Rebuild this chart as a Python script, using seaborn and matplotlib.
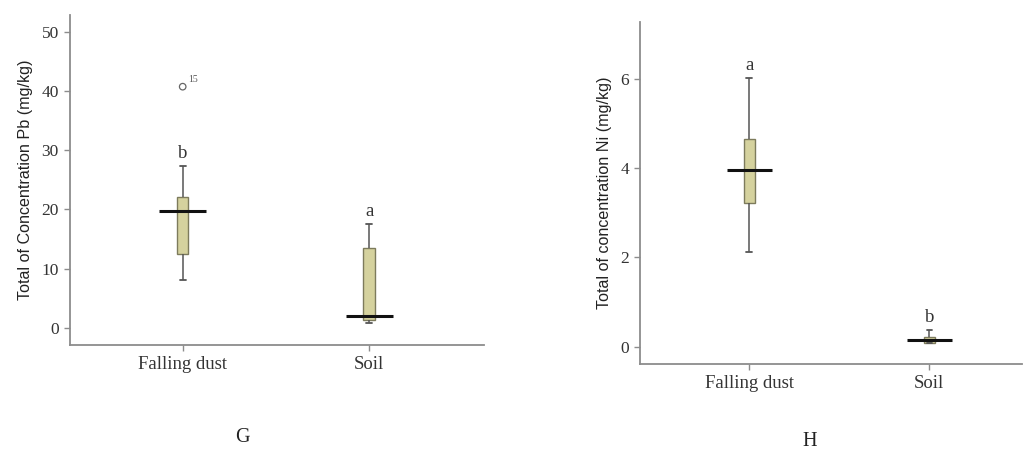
import numpy as np
import pandas as pd
import matplotlib
matplotlib.use("Agg")
import matplotlib.pyplot as plt
import seaborn as sns

# ---------------- data ----------------
categories = ["Falling dust", "Soil"]

# Pb (mg/kg): five-number summaries per category
pb_low = [8.0, 0.8]
pb_q1 = [12.5, 1.4]
pb_median = [19.8, 2.0]
pb_q3 = [22.1, 13.5]
pb_high = [27.3, 17.5]
pb_outlier_value = [40.7]
pb_outlier_group = ["Falling dust"]
pb_outlier_label = ["15"]
pb_letters = ["b", "a"]

# Ni (mg/kg)
ni_low = [2.12, 0.07]
ni_q1 = [3.22, 0.09]
ni_median = [3.97, 0.15]
ni_q3 = [4.65, 0.22]
ni_high = [6.02, 0.38]
ni_letters = ["a", "b"]

pb_ticks = [0, 10, 20, 30, 40, 50]
ni_ticks = [0, 2, 4, 6]

BOX_FILL = "#d5d29e"
BOX_EDGE = "#7d7b5c"
WHISK = "#555555"
SPINE = "#8c8c8c"
TXT = "#333333"
SERIF = "Liberation Serif"
SANS = "Liberation Sans"


def long_frame(low, q1, med, q3, high):
    rows = []
    for i, c in enumerate(categories):
        for v in (low[i], q1[i], med[i], q3[i], high[i]):
            rows.append({"group": c, "value": v})
    return pd.DataFrame(rows)


sns.set_theme(style="ticks")
plt.rcParams["font.family"] = [SERIF, "DejaVu Serif"]

fig = plt.figure(figsize=(10.23, 4.62), dpi=100)
W, H = 1023, 462
ax1 = fig.add_axes([70 / W, 1 - 345 / H, (484 - 70) / W, (345 - 15) / H])
ax2 = fig.add_axes([640 / W, 1 - 364 / H, (1022 - 640) / W, (364 - 21.7) / H])


def draw(ax, df, low, high, letters, ylim, yticks, ylabel, xlim):
    sns.boxplot(data=df, x="group", y="value", order=categories, ax=ax,
                width=0.062, whis=(0, 100), showfliers=False,
                color=BOX_FILL, linecolor=BOX_EDGE, linewidth=1.0,
                whiskerprops={"color": WHISK, "linewidth": 1.1},
                capprops={"color": WHISK, "linewidth": 1.3},
                medianprops={"visible": False},
                boxprops={"facecolor": BOX_FILL, "edgecolor": BOX_EDGE})
    # wide median bars, drawn by a second boxplot of the same data
    sns.boxplot(data=df, x="group", y="value", order=categories, ax=ax,
                width=0.25, whis=(0, 100), showfliers=False, showbox=False,
                showcaps=False, fill=False,
                whiskerprops={"visible": False},
                medianprops={"color": "#111111", "linewidth": 2.2})
    for i, c in enumerate(categories):
        ax.annotate(letters[i], xy=(i, high[i]), xytext=(0, 3),
                    textcoords="offset points", ha="center", va="bottom",
                    fontsize=13.5, color=TXT, family=SERIF)
    ax.set_ylim(*ylim)
    ax.set_xlim(*xlim)
    ax.set_yticks(yticks)
    ax.set_xticks(range(len(categories)))
    ax.set_xticklabels(categories, fontsize=13.5, color=TXT, family=SERIF)
    for t in ax.get_yticklabels():
        t.set_fontsize(12.5)
        t.set_color(TXT)
        t.set_family(SERIF)
    ax.set_xlabel("")
    ax.set_ylabel(ylabel, fontsize=11.6, color="#222222", family=SANS,
                  labelpad=6)
    sns.despine(ax=ax)
    for s in ("left", "bottom"):
        ax.spines[s].set_color(SPINE)
        ax.spines[s].set_linewidth(1.3)
    ax.tick_params(axis="both", length=4, width=1.0, color=SPINE, pad=4)
    ax.grid(False)


pb_df = long_frame(pb_low, pb_q1, pb_median, pb_q3, pb_high)
ni_df = long_frame(ni_low, ni_q1, ni_median, ni_q3, ni_high)

draw(ax1, pb_df, pb_low, pb_high, pb_letters, (-2.9, 52.8), pb_ticks,
     "Total of Concentration Pb (mg/kg)", (-0.604, 1.615))
draw(ax2, ni_df, ni_low, ni_high, ni_letters, (-0.39, 7.29), ni_ticks,
     "Total of concentration Ni (mg/kg)", (-0.607, 1.515))

# outlier of the Pb falling-dust group
out_df = pd.DataFrame({"x": [categories.index(g) for g in pb_outlier_group],
                       "value": pb_outlier_value})
sns.scatterplot(data=out_df, x="x", y="value", ax=ax1, marker="o", s=22,
                facecolor="none", edgecolor="#666666", linewidth=0.9,
                legend=False)
for xv, yv, lab in zip(out_df["x"], out_df["value"], pb_outlier_label):
    ax1.annotate(lab, xy=(xv, yv), xytext=(4, 2), textcoords="offset points",
                 ha="left", va="bottom", fontsize=7, color="#555555",
                 family=SERIF)
ax1.set_xlim(-0.604, 1.615)
ax1.set_xlabel("")
ax1.set_ylabel("Total of Concentration Pb (mg/kg)", fontsize=11.6,
               color="#222222", family=SANS, labelpad=6)

fig.text(242 / W, 1 - 437 / H, "G", ha="center", va="center",
         fontsize=14.5, color="#222222", family=SERIF)
fig.text(810 / W, 1 - 441 / H, "H", ha="center", va="center",
         fontsize=14.5, color="#222222", family=SERIF)

fig.savefig("out.png", dpi=100)
